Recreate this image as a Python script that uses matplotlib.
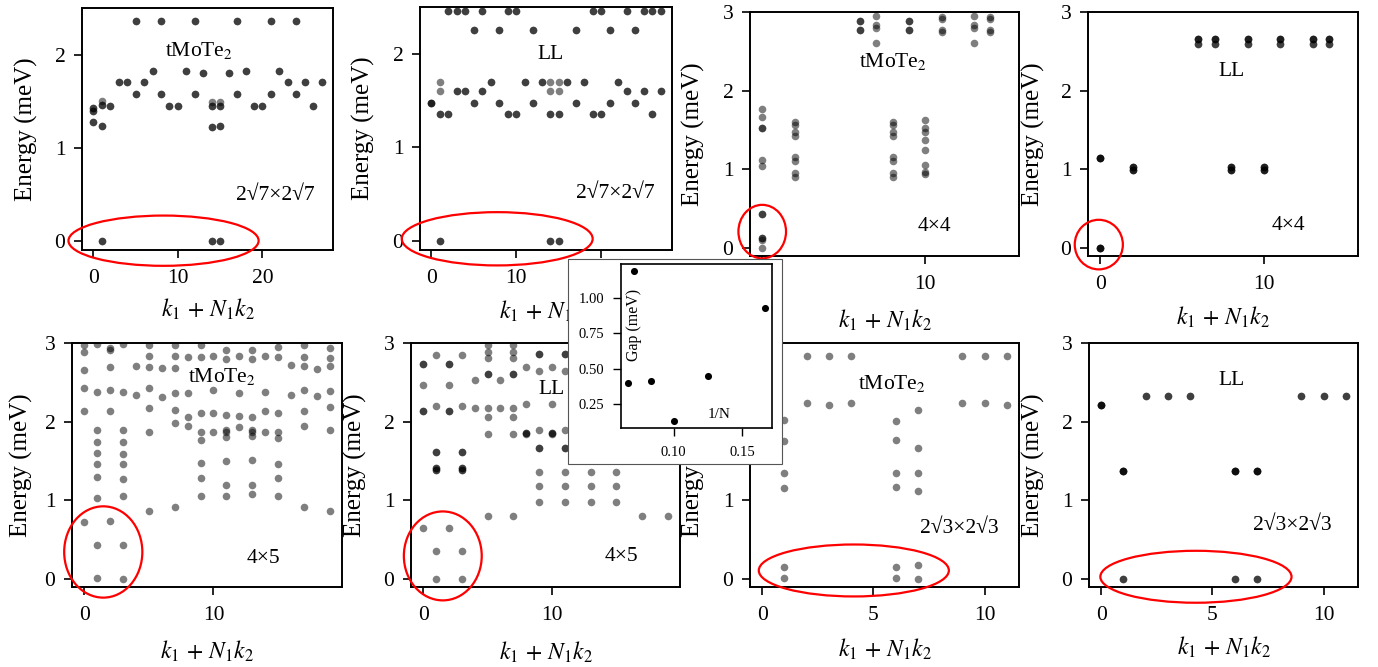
import numpy as np
import matplotlib
matplotlib.use('Agg')
import matplotlib.pyplot as plt
from matplotlib.patches import Ellipse, Rectangle

plt.rcParams['font.family'] = ['Liberation Serif', 'DejaVu Serif']
plt.rcParams['mathtext.fontset'] = 'stix'

# ---------------- data: (k1 + N1 k2, energy meV, degeneracy) ----------------
levels_tmote2_2r7 = [
    (0, 1.43, 2), (0, 1.39, 2), (0, 1.27, 2),
    (1, 1.50, 1), (1, 1.46, 2), (1, 1.23, 2), (1, 0.0, 2),
    (2, 1.45, 2), (3, 1.70, 2), (4, 1.70, 2),
    (5, 1.58, 2), (5, 2.36, 2), (6, 1.70, 2), (7, 1.82, 2),
    (8, 1.58, 2), (8, 2.36, 2), (9, 1.45, 2), (10, 1.45, 2), (11, 1.82, 2),
    (12, 1.58, 2), (12, 2.36, 2), (13, 1.80, 2),
    (14, 1.49, 1), (14, 1.45, 2), (14, 1.22, 2), (14, 0.0, 2),
    (15, 1.49, 1), (15, 1.45, 2), (15, 1.23, 2), (15, 0.0, 2),
    (16, 1.80, 2), (17, 1.58, 2), (17, 2.36, 2), (18, 1.82, 2),
    (19, 1.45, 2), (20, 1.45, 2), (21, 1.58, 2), (21, 2.36, 2),
    (22, 1.82, 2), (23, 1.70, 2), (24, 1.58, 2), (24, 2.36, 2),
    (25, 1.70, 2), (26, 1.45, 2), (27, 1.70, 2),
]

levels_ll_2r7 = [
    (0, 1.47, 3),
    (1, 1.70, 1), (1, 1.60, 1), (1, 1.35, 2), (1, 0.0, 2),
    (2, 2.46, 2), (2, 1.35, 2), (3, 2.46, 2), (3, 1.60, 2),
    (4, 2.46, 2), (4, 1.60, 2), (5, 2.25, 2), (5, 1.47, 2),
    (6, 2.46, 2), (6, 1.60, 2), (7, 1.70, 2), (8, 2.25, 2), (8, 1.47, 2),
    (9, 2.46, 2), (9, 1.35, 2), (10, 2.46, 2), (10, 1.35, 2), (11, 1.70, 2),
    (12, 2.25, 2), (12, 1.47, 2), (13, 1.70, 2),
    (14, 1.70, 1), (14, 1.60, 1), (14, 1.35, 2), (14, 0.0, 2),
    (15, 1.70, 1), (15, 1.60, 1), (15, 1.35, 2), (15, 0.0, 2),
    (16, 1.70, 2), (17, 2.25, 2), (17, 1.47, 2), (18, 1.70, 2),
    (19, 2.46, 2), (19, 1.35, 2), (20, 2.46, 2), (20, 1.35, 2),
    (21, 2.25, 2), (21, 1.47, 2), (22, 1.70, 2), (23, 2.46, 2), (23, 1.60, 2),
    (24, 2.25, 2), (24, 1.47, 2), (25, 2.46, 2), (25, 1.60, 2),
    (26, 2.46, 2), (26, 1.35, 2), (27, 2.46, 2), (27, 1.60, 2),
]

levels_tmote2_4x4 = [
    (0, 1.77, 1), (0, 1.67, 1), (0, 1.52, 2), (0, 1.12, 1), (0, 1.04, 1),
    (0, 0.43, 2), (0, 0.13, 2), (0, 0.10, 1), (0, 0.0, 1),
    (2, 1.60, 1), (2, 1.56, 1), (2, 1.47, 1), (2, 1.43, 1),
    (2, 1.16, 1), (2, 1.11, 1), (2, 0.95, 1), (2, 0.91, 1),
    (6, 2.89, 2), (6, 2.77, 2),
    (7, 2.95, 1), (7, 2.83, 1), (7, 2.80, 1), (7, 2.60, 1),
    (8, 1.60, 1), (8, 1.56, 1), (8, 1.47, 1), (8, 1.43, 1),
    (8, 1.16, 1), (8, 1.11, 1), (8, 0.95, 1), (8, 0.91, 1),
    (9, 2.89, 2), (9, 2.77, 2),
    (10, 1.63, 1), (10, 1.52, 1), (10, 1.48, 1), (10, 1.37, 1),
    (10, 1.25, 1), (10, 1.06, 1), (10, 0.97, 1), (10, 0.94, 1),
    (11, 2.94, 1), (11, 2.91, 1), (11, 2.77, 1), (11, 2.74, 1),
    (13, 2.95, 1), (13, 2.83, 1), (13, 2.80, 1), (13, 2.60, 1),
    (14, 2.94, 1), (14, 2.91, 1), (14, 2.77, 1), (14, 2.74, 1),
]

levels_ll_4x4 = [
    (0, 0.0, 4), (0, 1.15, 4),
    (2, 1.03, 3), (2, 0.99, 3), (8, 1.03, 3), (8, 0.99, 3),
    (10, 1.03, 3), (10, 0.99, 3),
    (6, 2.655, 3), (6, 2.59, 2), (7, 2.655, 3), (7, 2.59, 2),
    (9, 2.655, 3), (9, 2.59, 2), (11, 2.655, 3), (11, 2.59, 2),
    (13, 2.655, 3), (13, 2.59, 2), (14, 2.655, 3), (14, 2.59, 2),
]

levels_tmote2_4x5 = [
    (0, 2.97, 1), (0, 2.89, 1), (0, 2.66, 1), (0, 2.43, 1), (0, 2.14, 1), (0, 0.72, 1),
    (1, 2.99, 1), (1, 2.38, 1), (1, 1.89, 1), (1, 1.74, 1), (1, 1.60, 1),
    (1, 1.46, 1), (1, 1.30, 1), (1, 1.03, 1), (1, 0.43, 1), (1, 0.02, 1),
    (2, 2.94, 1), (2, 2.91, 1), (2, 2.69, 1), (2, 2.40, 1), (2, 2.14, 1), (2, 0.74, 1),
    (3, 2.99, 1), (3, 2.38, 1), (3, 1.90, 1), (3, 1.74, 1), (3, 1.59, 1),
    (3, 1.46, 1), (3, 1.27, 1), (3, 1.06, 1), (3, 0.43, 1), (3, 0.0, 1),
    (4, 2.71, 1), (4, 2.34, 1),
    (5, 2.97, 1), (5, 2.84, 1), (5, 2.69, 1), (5, 2.43, 1), (5, 2.18, 1), (5, 1.87, 1), (5, 0.87, 1),
    (6, 2.68, 1), (6, 2.32, 1),
    (7, 2.97, 1), (7, 2.83, 1), (7, 2.68, 1), (7, 2.37, 1), (7, 2.15, 1), (7, 1.98, 1), (7, 0.92, 1),
    (8, 2.82, 1), (8, 2.36, 1), (8, 2.06, 1), (8, 1.94, 1),
    (9, 2.97, 1), (9, 2.82, 1), (9, 2.11, 1), (9, 1.87, 1), (9, 1.77, 1),
    (9, 1.48, 1), (9, 1.29, 1), (9, 1.06, 1),
    (10, 2.84, 1), (10, 2.40, 1), (10, 2.11, 1), (10, 1.87, 1),
    (11, 2.91, 1), (11, 2.80, 1), (11, 2.09, 1), (11, 1.89, 1), (11, 1.87, 1),
    (11, 1.81, 1), (11, 1.50, 1), (11, 1.19, 1), (11, 1.06, 1),
    (12, 2.84, 1), (12, 2.37, 1), (12, 2.07, 1), (12, 1.93, 1),
    (13, 2.91, 1), (13, 2.80, 1), (13, 2.06, 1), (13, 1.89, 1), (13, 1.87, 1),
    (13, 1.82, 1), (13, 1.51, 1), (13, 1.19, 1), (13, 1.08, 1),
    (14, 2.84, 1), (14, 2.38, 1), (14, 2.13, 1), (14, 1.87, 1),
    (15, 2.95, 1), (15, 2.82, 1), (15, 2.11, 1), (15, 1.87, 1), (15, 1.79, 1),
    (15, 1.46, 1), (15, 1.29, 1), (15, 1.05, 1),
    (16, 2.72, 1), (16, 2.34, 1),
    (17, 2.97, 1), (17, 2.82, 1), (17, 2.71, 1), (17, 2.40, 1), (17, 2.14, 1), (17, 1.94, 1), (17, 0.92, 1),
    (18, 2.67, 1), (18, 2.33, 1),
    (19, 2.94, 1), (19, 2.81, 1), (19, 2.71, 1), (19, 2.39, 1), (19, 2.19, 1), (19, 1.90, 1), (19, 0.87, 1),
]

levels_ll_4x5 = [
    (0, 2.73, 2), (0, 2.47, 1), (0, 2.13, 2), (0, 0.65, 1),
    (1, 2.85, 1), (1, 2.20, 1), (1, 1.62, 2), (1, 1.41, 2), (1, 1.39, 2), (1, 0.36, 1), (1, 0.0, 1),
    (2, 2.73, 2), (2, 2.47, 1), (2, 2.13, 2), (2, 0.65, 1),
    (3, 2.85, 1), (3, 2.20, 1), (3, 1.62, 2), (3, 1.41, 2), (3, 1.39, 2), (3, 0.36, 1), (3, 0.0, 1),
    (4, 2.53, 1), (4, 2.17, 1),
    (5, 2.97, 1), (5, 2.89, 1), (5, 2.81, 1), (5, 2.60, 2), (5, 2.17, 1), (5, 2.06, 1), (5, 1.84, 1), (5, 0.80, 1),
    (6, 2.53, 1), (6, 2.17, 1),
    (7, 2.97, 1), (7, 2.89, 1), (7, 2.81, 1), (7, 2.60, 2), (7, 2.17, 1), (7, 2.06, 1), (7, 1.84, 1), (7, 0.80, 1),
    (8, 2.70, 1), (8, 2.23, 1), (8, 1.86, 2), (8, 1.84, 1),
    (9, 2.86, 2), (9, 2.64, 1), (9, 1.89, 1), (9, 1.67, 2), (9, 1.36, 1), (9, 1.18, 1), (9, 0.98, 1),
    (10, 2.70, 1), (10, 2.23, 1), (10, 1.86, 2), (10, 1.84, 1),
    (11, 2.86, 2), (11, 2.64, 1), (11, 1.89, 1), (11, 1.67, 2), (11, 1.36, 1), (11, 1.18, 1), (11, 0.98, 1),
    (12, 2.70, 1), (12, 2.23, 1), (12, 1.86, 2), (12, 1.84, 1),
    (13, 2.86, 2), (13, 2.64, 1), (13, 1.89, 1), (13, 1.67, 2), (13, 1.36, 1), (13, 1.18, 1), (13, 0.98, 1),
    (14, 2.70, 1), (14, 2.23, 1), (14, 1.86, 2), (14, 1.84, 1),
    (15, 2.86, 2), (15, 2.64, 1), (15, 1.89, 1), (15, 1.67, 2), (15, 1.36, 1), (15, 1.18, 1), (15, 0.98, 1),
    (16, 2.53, 1), (16, 2.17, 1),
    (17, 2.97, 1), (17, 2.89, 1), (17, 2.81, 1), (17, 2.60, 2), (17, 2.17, 1), (17, 2.06, 1), (17, 1.84, 1), (17, 0.80, 1),
    (18, 2.53, 1), (18, 2.17, 1),
    (19, 2.97, 1), (19, 2.89, 1), (19, 2.81, 1), (19, 2.60, 2), (19, 2.17, 1), (19, 2.06, 1), (19, 1.84, 1), (19, 0.80, 1),
]

levels_tmote2_2r3 = [
    (1, 2.02, 1), (1, 1.76, 1), (1, 1.35, 1), (1, 1.16, 1), (1, 0.16, 1), (1, 0.02, 1),
    (2, 2.84, 1), (2, 2.24, 1), (3, 2.84, 1), (3, 2.21, 1), (4, 2.84, 1), (4, 2.24, 1),
    (6, 2.01, 1), (6, 1.77, 1), (6, 1.35, 1), (6, 1.17, 1), (6, 0.16, 1), (6, 0.01, 1),
    (7, 2.15, 1), (7, 1.66, 1), (7, 1.35, 1), (7, 1.12, 1), (7, 0.18, 1), (7, 0.0, 1),
    (9, 2.84, 1), (9, 2.24, 1), (10, 2.84, 1), (10, 2.24, 1), (11, 2.84, 1), (11, 2.21, 1),
]

levels_ll_2r3 = [
    (0, 2.21, 4),
    (1, 1.37, 4), (1, 0.0, 2),
    (2, 2.33, 2), (3, 2.33, 2), (4, 2.33, 2),
    (6, 1.37, 4), (6, 0.0, 2), (7, 1.37, 4), (7, 0.0, 2),
    (9, 2.33, 2), (10, 2.33, 2), (11, 2.33, 2),
]

# inset: many-body gap versus 1/N
inv_N = [0.0667, 0.0714, 0.0833, 0.1000, 0.1250, 0.1667]
gap_meV = [0.40, 1.19, 0.41, 0.13, 0.45, 0.93]

model_labels = ['tMoTe$_2$', 'LL', 'tMoTe$_2$', 'LL', 'tMoTe$_2$', 'LL', 'tMoTe$_2$', 'LL']
size_labels = ['2√7×2√7', '2√7×2√7', '4×4', '4×4', '4×5', '4×5', '2√3×2√3', '2√3×2√3']

# ---------------- layout (pixels) ----------------
W, H = 1378, 667
fig = plt.figure(figsize=(W / 100, H / 100), dpi=100)


def add_ax(x0, y0, x1, y1, **kw):
    return fig.add_axes([x0 / W, 1 - y1 / H, (x1 - x0) / W, (y1 - y0) / H], **kw)


panels = [
    dict(box=(82, 8, 333, 250), lv=levels_tmote2_2r7, xl=(-1.35, 28.35), yl=(-0.1, 2.5),
         xt=[0, 10, 20], yt=[0, 1, 2], ell=(8.3, 0.0, 22.5, 0.54),
         mpos=(0.466, 0.826), spos=(0.769, 0.227), ylx=38, xly=297),
    dict(box=(420, 7, 672, 250), lv=levels_ll_2r7, xl=(-1.35, 28.35), yl=(-0.1, 2.5),
         xt=[0, 10, 20], yt=[0, 1, 2], ell=(7.75, 0.02, 22.5, 0.57),
         mpos=(0.519, 0.805), spos=(0.774, 0.233), ylx=375, xly=299),
    dict(box=(750, 12, 1019, 256), lv=levels_tmote2_4x4, xl=(-0.75, 15.75), yl=(-0.1, 3.0),
         xt=[0, 10], yt=[0, 1, 2, 3], ell=(0.0, 0.21, 2.92, 0.68),
         mpos=(0.533, 0.796), spos=(0.684, 0.12), ylx=705, xly=308),
    dict(box=(1088, 12, 1358, 256), lv=levels_ll_4x4, xl=(-0.75, 15.75), yl=(-0.1, 3.0),
         xt=[0, 10], yt=[0, 1, 2, 3], ell=(-0.09, 0.045, 2.94, 0.63),
         mpos=(0.532, 0.755), spos=(0.742, 0.123), ylx=1045, xly=305),
    dict(box=(72, 343, 342, 587), lv=levels_tmote2_4x5, xl=(-0.95, 19.95), yl=(-0.1, 3.0),
         xt=[0, 10], yt=[0, 1, 2, 3], ell=(1.47, 0.345, 6.05, 1.16),
         mpos=(0.554, 0.862), spos=(0.709, 0.118), ylx=33, xly=639),
    dict(box=(411, 343, 680, 587), lv=levels_ll_4x5, xl=(-0.95, 19.95), yl=(-0.1, 3.0),
         xt=[0, 10], yt=[0, 1, 2, 3], ell=(1.52, 0.295, 6.05, 1.13),
         mpos=(0.524, 0.81), spos=(0.783, 0.127), ylx=367, xly=640),
    dict(box=(750, 343, 1019, 587), lv=levels_tmote2_2r3, xl=(-0.55, 11.55), yl=(-0.1, 3.0),
         xt=[0, 5, 10], yt=[0, 1, 2, 3], ell=(4.12, 0.11, 8.55, 0.66),
         mpos=(0.527, 0.835), spos=(0.777, 0.24), ylx=705, xly=637),
    dict(box=(1089, 343, 1358, 587), lv=levels_ll_2r3, xl=(-0.55, 11.55), yl=(-0.1, 3.0),
         xt=[0, 5, 10], yt=[0, 1, 2, 3], ell=(4.26, 0.03, 8.6, 0.66),
         mpos=(0.53, 0.848), spos=(0.754, 0.254), ylx=1045, xly=635),
]

FS = 15.5
for i, p in enumerate(panels):
    ax = add_ax(*p['box'])
    x0, y0, x1, y1 = p['box']
    arr = np.array(p['lv'], dtype=float)
    mult = arr[:, 2].astype(int)
    kk = np.repeat(arr[:, 0], mult)
    ee = np.repeat(arr[:, 1], mult)
    ax.scatter(kk, ee, s=30, c='black', alpha=0.5, linewidths=0, zorder=2)
    ax.set_xlim(*p['xl'])
    ax.set_ylim(*p['yl'])
    ax.set_xticks(p['xt'])
    ax.set_yticks(p['yt'])
    ax.tick_params(axis='x', direction='out', length=6, width=1.2, labelsize=FS, pad=8)
    ax.tick_params(axis='y', direction='out', length=6, width=1.2, labelsize=FS, pad=6)
    for s in ax.spines.values():
        s.set_linewidth(1.4)
    ax.set_ylabel('Energy (meV)', fontsize=18)
    ax.yaxis.set_label_coords((p['ylx'] - x0) / (x1 - x0), 0.5)
    ax.set_xlabel(r'$k_1\,+\,N_1k_2$', fontsize=17)
    ax.xaxis.set_label_coords(0.5, (y1 - p['xly']) / (y1 - y0))
    ax.text(*p['mpos'], model_labels[i], transform=ax.transAxes, ha='center', va='center', fontsize=FS)
    ax.text(*p['spos'], size_labels[i], transform=ax.transAxes, ha='center', va='center', fontsize=FS)
    cx, cy, w, h = p['ell']
    ax.add_patch(Ellipse((cx, cy), w, h, fill=False, ec='red', lw=1.6, clip_on=False, zorder=5))

# inset with white box
box = Rectangle((568 / W, 1 - 464 / H), (782 - 568) / W, (464 - 259) / H, transform=fig.transFigure,
                facecolor='white', edgecolor='#555555', lw=0.8, zorder=8)
fig.add_artist(box)
axi = add_ax(621, 264, 772, 428, zorder=10)
axi.scatter(inv_N, gap_meV, s=26, c='black', linewidths=0)
axi.set_xticks([0.10, 0.15])
axi.set_yticks([0.25, 0.50, 0.75, 1.00])
axi.set_xticklabels(['0.10', '0.15'])
axi.set_yticklabels(['0.25', '0.50', '0.75', '1.00'])
axi.tick_params(axis='y', direction='out', length=6, width=1.0, labelsize=10.5, pad=6)
axi.tick_params(axis='x', direction='out', length=6, width=1.0, labelsize=10.5, pad=7)
for s in axi.spines.values():
    s.set_linewidth(1.2)
axi.text(0.086, 0.628, 'Gap (meV)', rotation=90, transform=axi.transAxes, ha='center', va='center', fontsize=11.5)
axi.text(0.65, 0.08, '1/N', transform=axi.transAxes, ha='center', va='center', fontsize=11)

fig.savefig('out.png', dpi=100)
